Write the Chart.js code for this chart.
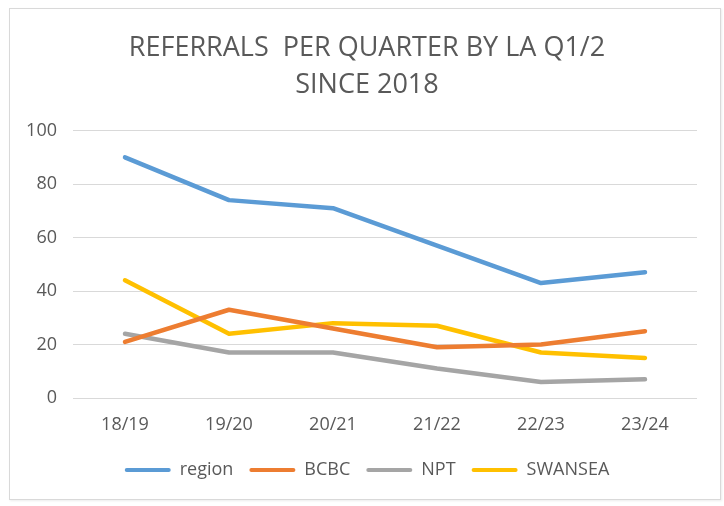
<!DOCTYPE html>
<html>
<head>
<meta charset="utf-8">
<script src="https://cdn.jsdelivr.net/npm/chart.js@4.4.1/dist/chart.umd.min.js"></script>
<style>
  html, body { margin: 0; padding: 0; background: #ffffff; }
  #box {
    position: absolute; left: 9px; top: 8px;
    width: 710px; height: 490px;
    border: 1px solid #d9d9d9;
    box-shadow: 1px 1px 2px rgba(0,0,0,0.08);
    background: #ffffff;
  }
  canvas { display: block; }
</style>
</head>
<body>
<div id="box"><canvas id="c" width="710" height="490"></canvas></div>
<script>
const categories = ["18/19", "19/20", "20/21", "21/22", "22/23", "23/24"];
const region  = [90, 74, 71, 57, 43, 47];
const bcbc    = [21, 33, 26, 19, 20, 25];
const npt     = [24, 17, 17, 11, 6, 7];
const swansea = [44, 24, 28, 27, 17, 15];
const yTicks  = [0, 20, 40, 60, 80, 100];
const titleLines = ["REFERRALS  PER QUARTER BY LA Q1/2", "SINCE 2018"];

const FONT = "'Open Sans', 'DejaVu Sans', sans-serif";
const TEXT = "#595959";

function ds(label, data, color) {
  return {
    label, data,
    borderColor: color, backgroundColor: color,
    borderWidth: 4.5, pointRadius: 0, pointHoverRadius: 0,
    borderCapStyle: 'round', borderJoinStyle: 'round',
    tension: 0, fill: false
  };
}

// widen title & legend boxes so they centre like the reference
const recentre = {
  id: 'recentre',
  afterLayout(chart) {
    [chart.legend, chart.titleBlock].forEach(b => {
      if (!b) return;
      b.left = 4; b.right = 710; b.width = 706;
    });
  }
};

new Chart(document.getElementById('c'), {
  type: 'line',
  data: {
    labels: categories,
    datasets: [
      ds('region', region, '#5B9BD5'),
      ds('BCBC', bcbc, '#ED7D31'),
      ds('NPT', npt, '#A5A5A5'),
      ds('SWANSEA', swansea, '#FFC000')
    ]
  },
  plugins: [recentre],
  options: {
    responsive: false,
    animation: false,
    layout: { padding: { left: 0, right: 23, top: 0, bottom: 10 } },
    plugins: {
      title: {
        display: true,
        text: titleLines,
        color: TEXT,
        font: { family: FONT, size: 27, weight: 'normal', lineHeight: 1.4 },
        padding: { top: 20, bottom: 26 }
      },
      legend: {
        position: 'bottom',
        labels: {
          color: TEXT,
          font: { family: FONT, size: 18 },
          boxWidth: 46, boxHeight: 4, padding: 16,
          useBorderRadius: true, borderRadius: 2,
          generateLabels(chart) {
            return Chart.defaults.plugins.legend.labels.generateLabels(chart).map(l => {
              l.lineWidth = 0;
              l.strokeStyle = l.fillStyle;
              return l;
            });
          }
        }
      },
      tooltip: { enabled: false }
    },
    scales: {
      x: {
        offset: true,
        grid: { display: false, drawTicks: false },
        border: { display: false },
        ticks: { color: TEXT, font: { family: FONT, size: 18 }, padding: 16, maxRotation: 0 },
        afterFit(s) { s.height = 47; }
      },
      y: {
        min: 0, max: 100,
        afterBuildTicks(s) { s.ticks = yTicks.map(v => ({ value: v })); },
        grid: { color: '#d9d9d9', lineWidth: 1, drawTicks: false },
        border: { display: false },
        ticks: { color: TEXT, font: { family: FONT, size: 18 }, padding: 16 },
        afterFit(s) { s.width = 63; }
      }
    }
  }
});
</script>
</body>
</html>
